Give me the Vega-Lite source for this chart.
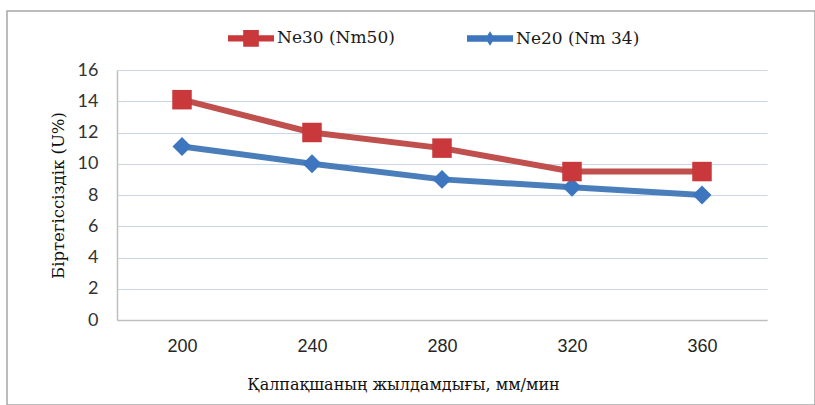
{
  "$schema": "https://vega.github.io/schema/vega-lite/v6.json",
  "width": 808,
  "height": 394,
  "autosize": {"type": "none"},
  "padding": {"left": 7, "top": 11, "right": 0, "bottom": 0},
  "background": "white",
  "config": {
    "view": {"stroke": "#A6A6A6", "strokeWidth": 1.5},
    "legend": {
      "padding": 0,
      "orient": "none",
      "legendX": 221,
      "legendY": 4,
      "direction": "horizontal",
      "symbolSize": 2116,
      "symbolStrokeWidth": 0,
      "symbolOpacity": 1,
      "labelFont": "DejaVu Serif",
      "labelFontSize": 17,
      "labelColor": "#1A1A1A",
      "labelOffset": 3,
      "labelLimit": 300,
      "columnPadding": 72
    }
  },
  "data": {
    "values": [
      {"series": "Ne20 (Nm 34)", "speed": 200, "u": 11.1},
      {"series": "Ne20 (Nm 34)", "speed": 240, "u": 10.0},
      {"series": "Ne20 (Nm 34)", "speed": 280, "u": 9.0},
      {"series": "Ne20 (Nm 34)", "speed": 320, "u": 8.5},
      {"series": "Ne20 (Nm 34)", "speed": 360, "u": 8.0},
      {"series": "Ne30 (Nm50)", "speed": 200, "u": 14.1},
      {"series": "Ne30 (Nm50)", "speed": 240, "u": 12.0},
      {"series": "Ne30 (Nm50)", "speed": 280, "u": 11.0},
      {"series": "Ne30 (Nm50)", "speed": 320, "u": 9.5},
      {"series": "Ne30 (Nm50)", "speed": 360, "u": 9.5}
    ]
  },
  "encoding": {
    "x": {
      "field": "speed",
      "type": "ordinal",
      "scale": {"type": "point", "range": [110, 760], "padding": 0.5},
      "axis": {
        "orient": "bottom",
        "offset": -85,
        "domainColor": "#BFBFBF",
        "domainWidth": 1.5,
        "ticks": false,
        "grid": false,
        "labelAngle": 0,
        "labelPadding": 17,
        "labelFont": "Liberation Sans",
        "labelFontSize": 18,
        "labelColor": "#262626",
        "title": "Қалпақшаның жылдамдығы, мм/мин",
        "titleFont": "DejaVu Serif",
        "titleFontSize": 16,
        "titleFontWeight": "normal",
        "titleColor": "#111111",
        "titlePadding": 21,
        "titleX": 396
      }
    },
    "y": {
      "field": "u",
      "type": "quantitative",
      "scale": {"domain": [0, 16], "range": [309, 59], "nice": false, "zero": true},
      "axis": {
        "orient": "left",
        "offset": -110,
        "values": [0, 2, 4, 6, 8, 10, 12, 14, 16],
        "domainColor": "#BFBFBF",
        "domainWidth": 1.5,
        "ticks": false,
        "grid": true,
        "gridColor": "#C9D6EC",
        "gridWidth": 1,
        "labelPadding": 19,
        "labelFont": "Lato",
        "labelFontSize": 18,
        "labelColor": "#333333",
        "title": "Біртегіссіздік (U%)",
        "titleFont": "DejaVu Serif",
        "titleFontSize": 16.5,
        "titleFontWeight": "normal",
        "titleColor": "#111111",
        "titlePadding": 11
      }
    }
  },
  "layer": [
    {
      "mark": {"type": "line", "strokeWidth": 6, "strokeJoin": "round"},
      "encoding": {
        "detail": {"field": "series", "type": "nominal"},
        "stroke": {
          "condition": {"test": "datum.series === 'Ne30 (Nm50)'", "value": "#C0504D"},
          "value": "#4A7EBB"
        }
      }
    },
    {
      "transform": [{"filter": "datum.series === 'Ne20 (Nm 34)'"}],
      "mark": {"type": "point", "shape": "diamond", "filled": true, "opacity": 1, "size": 360},
      "encoding": {
        "fill": {
          "field": "series",
          "type": "nominal",
          "scale": {"domain": ["Ne30 (Nm50)", "Ne20 (Nm 34)"], "range": ["#C9383A", "#3D76BE"]},
          "legend": {
            "title": null,
            "encode": {
              "symbols": {
                "update": {
                  "shape": {
                    "signal": "datum.value === 'Ne30 (Nm50)' ? 'M-1,-0.14H1V0.14H-1Z M-0.34,-0.36H0.34V0.36H-0.34Z' : 'M-1,-0.14H1V0.14H-1Z M0,-0.32L0.2,0L0,0.32L-0.2,0Z'"
                  }
                }
              }
            }
          }
        }
      }
    },
    {
      "transform": [{"filter": "datum.series === 'Ne30 (Nm50)'"}],
      "mark": {"type": "point", "shape": "square", "filled": true, "opacity": 1, "size": 380},
      "encoding": {
        "fill": {
          "field": "series",
          "type": "nominal",
          "scale": {"domain": ["Ne30 (Nm50)", "Ne20 (Nm 34)"], "range": ["#C9383A", "#3D76BE"]},
          "legend": {
            "title": null,
            "encode": {
              "symbols": {
                "update": {
                  "shape": {
                    "signal": "datum.value === 'Ne30 (Nm50)' ? 'M-1,-0.14H1V0.14H-1Z M-0.34,-0.36H0.34V0.36H-0.34Z' : 'M-1,-0.14H1V0.14H-1Z M0,-0.32L0.2,0L0,0.32L-0.2,0Z'"
                  }
                }
              }
            }
          }
        }
      }
    }
  ]
}
